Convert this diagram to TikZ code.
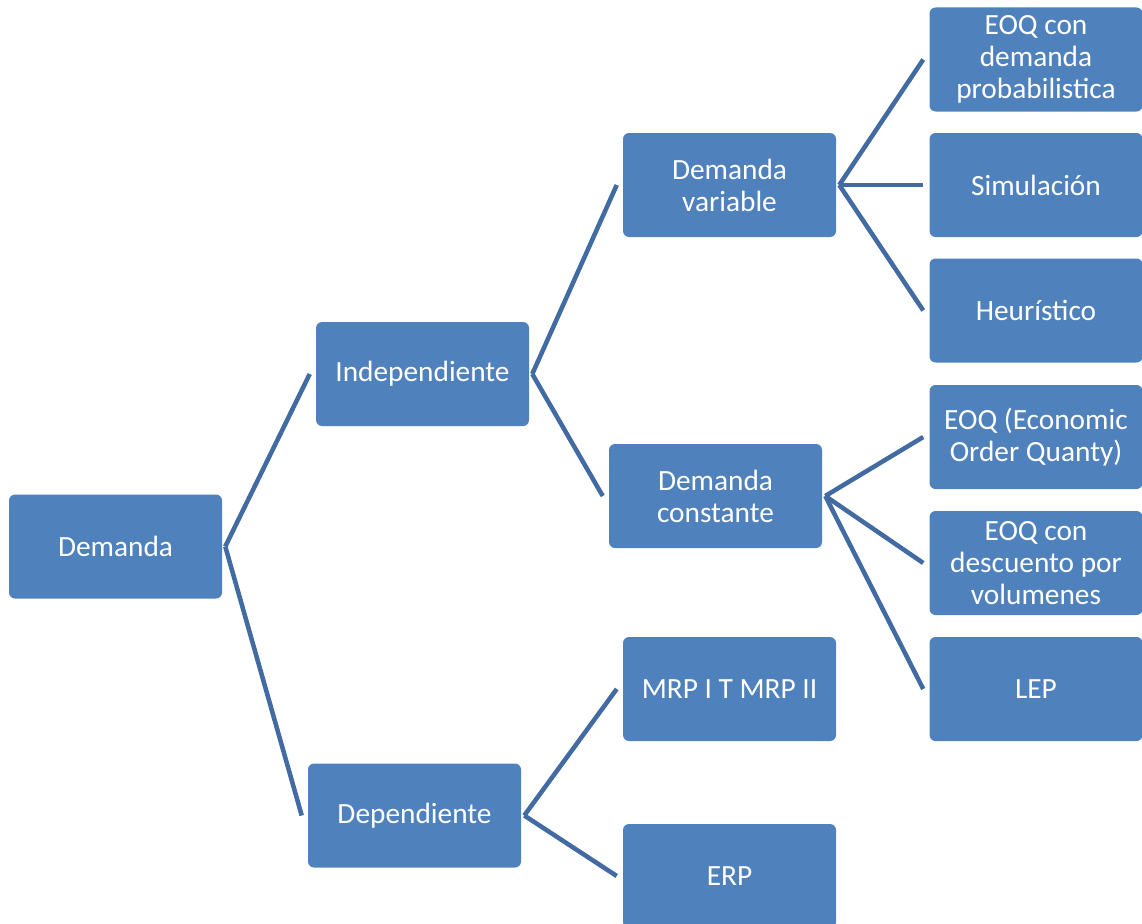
\documentclass[tikz,border=0pt]{standalone}
\usepackage{fontspec}
\setmainfont{Carlito}
\usetikzlibrary{calc}
\definecolor{boxblue}{RGB}{79,129,189}
\definecolor{linkblue}{RGB}{65,107,162}
\begin{document}
\begin{tikzpicture}[x=0.75pt,y=-0.75pt,
  box/.style={rectangle, rounded corners=4.5pt, fill=boxblue, text=white,
    minimum width=159.75pt, minimum height=78pt, inner sep=0pt,
    align=center, font=\fontsize{22pt}{24pt}\selectfont},
  link/.style={draw=linkblue, line width=3.4pt}]
\useasboundingbox (0,0) rectangle (1142,924);
\clip (0,0) rectangle (1142,924);

% level 0
\node[box] (dem) at (115.5,546.5) {Demanda};
% level 1
\node[box] (ind) at (422.5,374) {Independiente};
\node[box] (dep) at (414.5,815.5) {Dependiente};
% level 2
\node[box] (var) at (729.5,185) {Demanda\\variable};
\node[box] (con) at (715.5,496) {Demanda\\constante};
\node[box] (mrp) at (729.5,689) {MRP I T MRP II};
\node[box] (erp) at (729.5,876) {ERP};
% level 3
\node[box] (prob) at (1036,59.5) {EOQ con\\demanda\\probabilistica};
\node[box] (sim) at (1036,185) {Simulación};
\node[box] (heu) at (1036,310.5) {Heurístico};
\node[box] (eoq) at (1036,437) {EOQ (Economic\\Order Quanty)};
\node[box] (desc) at (1036,563) {EOQ con\\descuento por\\volumenes};
\node[box] (lep) at (1036,689) {LEP};

% connectors: from just right of the parent to just left of each child
\foreach \p/\c in {dem/ind, dem/dep, ind/var, ind/con, dep/mrp, dep/erp,
                   var/prob, var/sim, var/heu,
                   con/eoq, con/desc, con/lep}
  \draw[link] ($(\p.east)+(3,0)$) -- ($(\c.west)+(-6,0)$);
\end{tikzpicture}
\end{document}
